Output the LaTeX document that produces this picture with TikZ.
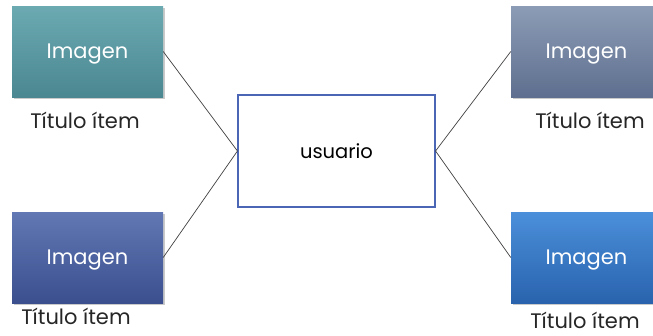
\documentclass[tikz,border=0pt]{standalone}
\usepackage{fontspec}
\setmainfont{Poppins}
\usetikzlibrary{shadows}
\definecolor{tealtop}{HTML}{6CAAB2}
\definecolor{tealbot}{HTML}{4A8791}
\definecolor{slatetop}{HTML}{8C9CB6}
\definecolor{slatebot}{HTML}{5E6F8F}
\definecolor{indtop}{HTML}{6178B4}
\definecolor{indbot}{HTML}{3B4F8E}
\definecolor{skytop}{HTML}{4B8FDA}
\definecolor{skybot}{HTML}{2963AE}
\definecolor{hubline}{HTML}{4A66B4}
\begin{document}
\begin{tikzpicture}[x=1pt,y=-1pt,
  imgbox/.style={minimum width=151pt,minimum height=91pt,inner sep=0pt,
    text=white,font=\fontsize{21}{24}\selectfont,text height=13pt,text depth=0pt,
    drop shadow={shadow xshift=1.5pt,shadow yshift=-2pt,opacity=0.35,fill=black!60}},
  caption/.style={font=\fontsize{21}{24}\selectfont,text=black!85,inner sep=0pt},
  hub/.style={draw=hubline,line width=1.1pt,fill=white,minimum width=197pt,
    minimum height=112pt,inner sep=0pt,font=\fontsize{19.5}{23}\selectfont,
    text height=15pt,text depth=0pt},
  link/.style={draw=black!75,line width=0.7pt}]
\useasboundingbox (0,0) rectangle (653,335);
% picture boxes
\node[imgbox,top color=tealtop,bottom color=tealbot] (tl) at (87.5,51.5) {Imagen};
\node[imgbox,top color=slatetop,bottom color=slatebot] (tr) at (586.5,51.5) {Imagen};
\node[imgbox,top color=indtop,bottom color=indbot] (bl) at (87.5,257.5) {Imagen};
\node[imgbox,top color=skytop,bottom color=skybot] (br) at (586.5,257.5) {Imagen};
% captions
\node[caption] (ctl) at (85,120) {Título ítem};
\node[caption] (ctr) at (590,120) {Título ítem};
\node[caption] (cbl) at (76,316) {Título ítem};
\node[caption] (cbr) at (585,320) {Título ítem};
% central box
\node[hub] (hub) at (336.5,151) {usuario};
% connectors
\draw[link] (tl.east) -- (hub.west);
\draw[link] (bl.east) -- (hub.west);
\draw[link] (tr.west) -- (hub.east);
\draw[link] (br.west) -- (hub.east);
\end{tikzpicture}
\end{document}
